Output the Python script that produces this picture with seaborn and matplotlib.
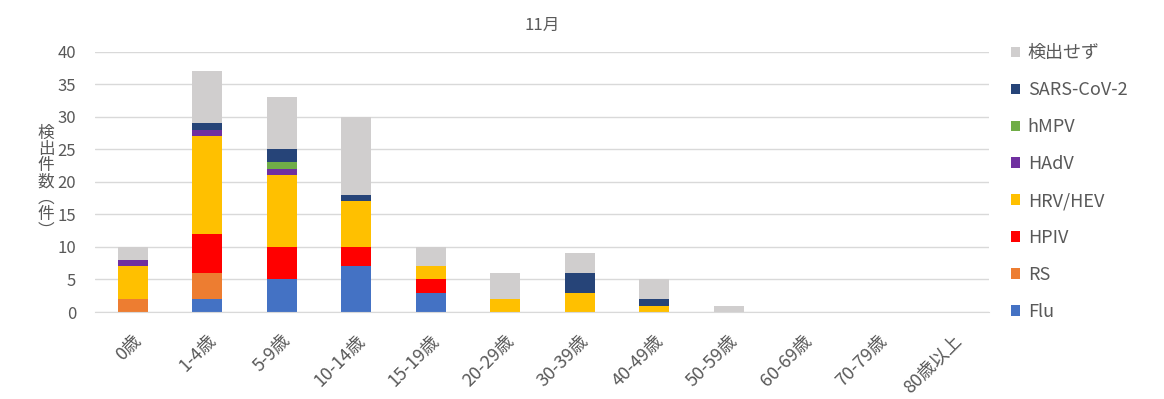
import numpy as np
import matplotlib
matplotlib.use("Agg")
import matplotlib.pyplot as plt
import seaborn as sns
from matplotlib.patches import Patch

# age groups on the x axis
ages = ["0歳", "1-4歳", "5-9歳", "10-14歳", "15-19歳", "20-29歳",
        "30-39歳", "40-49歳", "50-59歳", "60-69歳", "70-79歳", "80歳以上"]

# detections per virus, bottom to top
flu = [0, 2, 5, 7, 3, 0, 0, 0, 0, 0, 0, 0]
rs = [2, 4, 0, 0, 0, 0, 0, 0, 0, 0, 0, 0]
hpiv = [0, 6, 5, 3, 2, 0, 0, 0, 0, 0, 0, 0]
hrv_hev = [5, 15, 11, 7, 2, 2, 3, 1, 0, 0, 0, 0]
hadv = [1, 1, 1, 0, 0, 0, 0, 0, 0, 0, 0, 0]
hmpv = [0, 0, 1, 0, 0, 0, 0, 0, 0, 0, 0, 0]
sars = [0, 1, 2, 1, 0, 0, 3, 1, 0, 0, 0, 0]
none_found = [2, 8, 8, 12, 3, 4, 3, 3, 1, 0, 0, 0]

series_names = ["Flu", "RS", "HPIV", "HRV/HEV", "HAdV", "hMPV", "SARS-CoV-2", "検出せず"]
series_vals = [flu, rs, hpiv, hrv_hev, hadv, hmpv, sars, none_found]
colors = ["#4472C4", "#ED7D31", "#FF0000", "#FFC000", "#7030A0", "#70AD47", "#264478", "#D0CECE"]

sns.set_style("white")
plt.rcParams["font.family"] = ["Noto Sans CJK JP", "DejaVu Sans"]

fig = plt.figure(figsize=(11.64, 3.99), dpi=100)
ax = fig.add_axes([0.082, 0.218, 0.768, 0.652])

bottom = np.zeros(len(ages))
for name, vals, c in zip(series_names, series_vals, colors):
    sns.barplot(x=ages, y=vals, bottom=bottom, color=c, width=0.4,
                saturation=1, ax=ax, linewidth=0)
    bottom = bottom + np.array(vals)

ax.set_ylim(0, 40)
ax.set_yticks(range(0, 41, 5))
ax.set_xlim(-0.5, len(ages) - 0.5)
ax.grid(axis="y", color="#D9D9D9", linewidth=1)
ax.set_axisbelow(True)
for s in ["top", "right", "left"]:
    ax.spines[s].set_visible(False)
ax.spines["bottom"].set_color("#D9D9D9")
ax.tick_params(axis="both", length=0, colors="#595959")
ax.tick_params(axis="y", pad=14, labelsize=12)
ax.tick_params(axis="x", pad=14, labelsize=13)
plt.setp(ax.get_xticklabels(), rotation=45, ha="right", rotation_mode="anchor")

ax.set_title("11月", fontsize=12, color="#595959", pad=16)
ax.set_ylabel("検\n出\n件\n数\n︵\n件\n︶", rotation=0, fontsize=12,
              color="#595959", labelpad=8, va="center", linespacing=0.95)

handles = [Patch(facecolor=c, edgecolor="none") for c in colors][::-1]
labels = series_names[::-1]
fig.legend(handles, labels, loc="upper left", bbox_to_anchor=(0.855, 0.93),
           frameon=False, fontsize=13, handlelength=0.5, handleheight=0.5,
           handletextpad=0.4, labelspacing=1.05, labelcolor="#595959")

fig.savefig("out.png", dpi=100)
